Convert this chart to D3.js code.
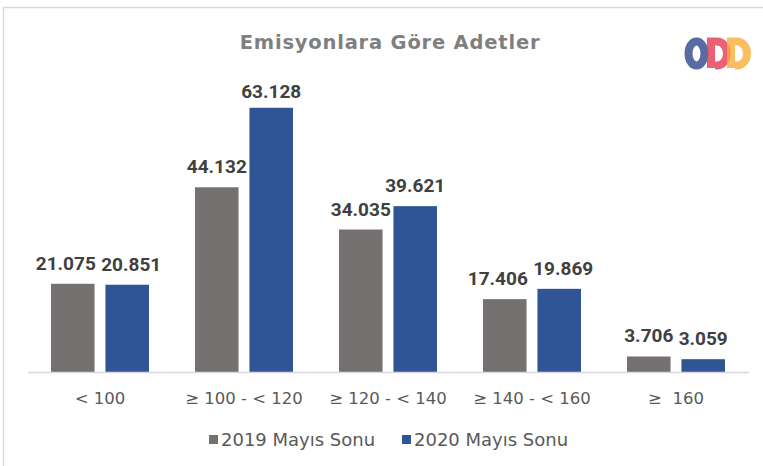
<!DOCTYPE html>
<html>
<head>
<meta charset="utf-8">
<script src="https://cdn.jsdelivr.net/npm/d3@7"></script>
<style>
  body { margin: 0; background: #fff; }
  svg { display: block; }
</style>
</head>
<body>
<svg id="chart" width="763" height="466"></svg>
<script>
const categories = ["< 100", "≥ 100 - < 120", "≥ 120 - < 140", "≥ 140 - < 160", "≥  160"];
const seriesNames = ["2019 Mayıs Sonu", "2020 Mayıs Sonu"];
const values2019 = [21075, 44132, 34035, 17406, 3706];
const values2020 = [20851, 63128, 39621, 19869, 3059];
const colors = ["#767171", "#2f5597"];

const width = 763, height = 466;
const svg = d3.select("#chart");

// frame (only top and left edges show in the reference)
svg.append("path")
    .attr("d", "M3.5,466 L3.5,7.5 L763,7.5")
    .attr("fill", "none")
    .attr("stroke", "#d9d9d9")
    .attr("stroke-width", 1.5);

// title
svg.append("text")
    .attr("x", 390)
    .attr("y", 49)
    .attr("text-anchor", "middle")
    .attr("font-family", "DejaVu Sans")
    .attr("font-weight", "bold")
    .attr("font-size", 19.5)
    .attr("letter-spacing", 0.8)
    .attr("fill", "#7f7f7f")
    .text("Emisyonlara Göre Adetler");

// logo
const logo = svg.append("g").attr("transform", "translate(685,37)");
logo.append("ellipse")
    .attr("cx", 11.5).attr("cy", 16.5).attr("rx", 8).attr("ry", 12)
    .attr("fill", "none").attr("stroke", "#3b5192").attr("stroke-width", 8).attr("opacity", 0.85);
function dPath(x0) {
    return `M${x0},31 L${x0},4.5 L${x0 + 6},4.5 A10,12 0 0 1 ${x0 + 6},28.5 L${x0 + 4},28.5`;
}
logo.append("path").attr("d", dPath(26))
    .attr("fill", "none").attr("stroke", "#e63950").attr("stroke-width", 8).attr("opacity", 0.8);
logo.append("path").attr("d", dPath(46))
    .attr("fill", "none").attr("stroke", "#f9ae3a").attr("stroke-width", 8).attr("opacity", 0.8);

// scales
const x0 = d3.scaleBand().domain(categories).range([28, 748]);
const x1 = d3.scaleBand().domain(seriesNames).range([-49, 49]).paddingInner(0.2);
const y = d3.scaleLinear().domain([0, 70000]).range([372, 79]);

const rows = categories.map((c, i) => ({
    cat: c,
    vals: [values2019[i], values2020[i]]
}));

const groups = svg.selectAll(".grp")
    .data(rows)
    .enter().append("g")
    .attr("class", "grp")
    .attr("transform", d => `translate(${x0(d.cat) + x0.bandwidth() / 2},0)`);

groups.selectAll("rect")
    .data(d => d.vals.map((v, j) => ({ v, s: seriesNames[j], j })))
    .enter().append("rect")
    .attr("x", d => x1(d.s))
    .attr("y", d => y(d.v))
    .attr("width", x1.bandwidth())
    .attr("height", d => y(0) - y(d.v))
    .attr("fill", d => colors[d.j]);

// value labels
const fmt = v => d3.format(",")(v).replace(/,/g, ".");
groups.each(function (d) {
    const g = d3.select(this);
    const close = Math.abs(y(d.vals[0]) - y(d.vals[1])) < 16 && d.vals[0] > 10000;
    d.vals.forEach((v, j) => {
        const top = y(v);
        const baseline = top < 115 ? top - 10 : top - 14;
        const shift = close ? (j === 0 ? -7 : 4) : 0;
        g.append("text")
            .attr("x", x1(seriesNames[j]) + x1.bandwidth() / 2 + shift)
            .attr("y", baseline)
            .attr("text-anchor", "middle")
            .attr("font-family", "Roboto")
            .attr("font-weight", "bold")
            .attr("font-size", 19)
            .attr("fill", "#404040")
            .text(fmt(v));
    });
});

// axis line
svg.append("line")
    .attr("x1", 28).attr("x2", 749)
    .attr("y1", 372.5).attr("y2", 372.5)
    .attr("stroke", "#d9d9d9")
    .attr("stroke-width", 1.5);

// category labels
svg.selectAll(".cat")
    .data(categories)
    .enter().append("text")
    .attr("class", "cat")
    .attr("x", d => x0(d) + x0.bandwidth() / 2)
    .attr("y", 404)
    .attr("text-anchor", "middle")
    .attr("font-family", "DejaVu Sans")
    .attr("font-size", 16.5)
    .attr("fill", "#595959")
    .style("white-space", "pre")
    .text(d => d);

// legend
const legendX = [209, 402];
const legend = svg.selectAll(".leg")
    .data(seriesNames)
    .enter().append("g")
    .attr("class", "leg")
    .attr("transform", (d, i) => `translate(${legendX[i]},0)`);
legend.append("rect")
    .attr("x", 0).attr("y", 435)
    .attr("width", 9).attr("height", 9)
    .attr("fill", (d, i) => colors[i]);
legend.append("text")
    .attr("x", 12).attr("y", 446)
    .attr("font-family", "DejaVu Sans")
    .attr("font-size", 18)
    .attr("fill", "#595959")
    .text(d => d);
</script>
</body>
</html>
